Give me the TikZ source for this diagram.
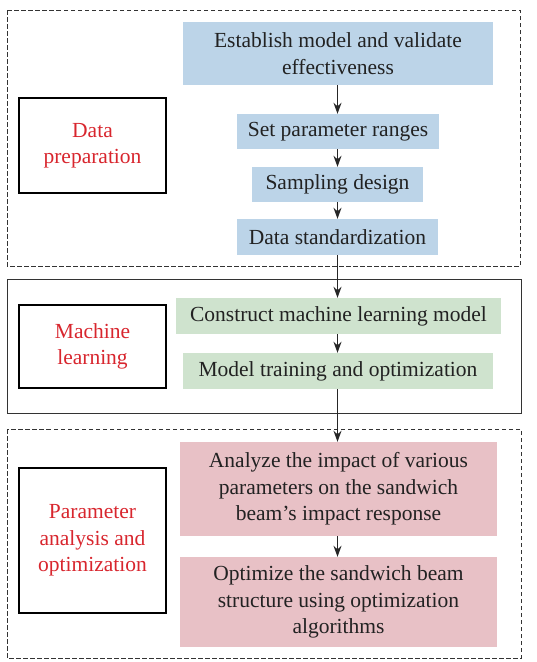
\documentclass[tikz,border=0pt]{standalone}
\usepackage{fontspec}
\setmainfont{Liberation Serif}
\usepackage{tikz}
\usetikzlibrary{%
  arrows.meta,%
  positioning%
}

\definecolor{stepblue}{RGB}{188,212,232}
\definecolor{stepgreen}{RGB}{207,227,206}
\definecolor{steppink}{RGB}{232,193,198}
\definecolor{labelred}{RGB}{216,38,46}
\definecolor{textdark}{RGB}{34,34,34}

\begin{document}
\begin{tikzpicture}[x=1pt,y=-1pt,font=\fontsize{21.5}{26.5}\selectfont]
 \begin{scope}[textdark,
   stepbox/.style={inner sep=0pt,align=center,text=textdark},
   bluebox/.style={stepbox,fill=stepblue},
   greenbox/.style={stepbox,fill=stepgreen},
   pinkbox/.style={stepbox,fill=steppink},
   labelbox/.style={draw=black,line width=2.2pt,inner sep=0pt,align=center,
     text=labelred,minimum width=147pt},
   groupbox/.style={draw=black!80,line width=0.9pt},
   flow/.style={draw=black!85,line width=1.3pt,-{Stealth[length=11pt,width=8pt]}}]
   \useasboundingbox (0,0) rectangle (537,662);

   %Gruppen
   \draw[groupbox,dash pattern=on 4.5pt off 2.5pt] (7,10) rectangle (520,266);
   \draw[groupbox] (7,279) rectangle (521,413);
   \draw[groupbox,dash pattern=on 4.5pt off 2.5pt] (7,429) rectangle (521,658);

   %Labels links
   \node[labelbox,minimum height=95pt] (prep) at (92.5,145.5) {Data\\preparation};
   \node[labelbox,minimum height=83pt] (ml) at (92.5,346.5) {Machine\\learning};
   \node[labelbox,minimum height=145pt] (opt) at (92.5,540.5) {Parameter\\analysis and\\optimization};

   %Schritte
   \node[bluebox,minimum width=310pt,minimum height=63pt] (est) at (338,53.5)
     {Establish model and validate\\effectiveness};
   \node[bluebox,minimum width=202pt,minimum height=35pt] (spr) at (338,131.5)
     {Set parameter ranges};
   \node[bluebox,minimum width=171pt,minimum height=35pt] (sdes) at (337.5,184.5)
     {Sampling design};
   \node[bluebox,minimum width=201pt,minimum height=36pt] (dstd) at (337.5,237)
     {Data standardization};

   \node[greenbox,minimum width=325pt,minimum height=36pt] (cml) at (338.5,316)
     {Construct machine learning model};
   \node[greenbox,minimum width=310pt,minimum height=36pt] (mto) at (338,371)
     {Model training and optimization};

   \node[pinkbox,minimum width=317pt,minimum height=94pt] (aip) at (338.5,489)
     {Analyze the impact of various\\parameters on the sandwich\\beam’s impact response};
   \node[pinkbox,minimum width=317pt,minimum height=90pt] (osb) at (338.5,602)
     {Optimize the sandwich beam\\structure using optimization\\algorithms};

   %Pfeile
   \coordinate (ax) at (337.5,0);
   \draw[flow] (est.south -| ax) -- (spr.north -| ax);
   \draw[flow] (spr.south -| ax) -- (sdes.north -| ax);
   \draw[flow] (sdes.south -| ax) -- (dstd.north -| ax);
   \draw[flow] (dstd.south -| ax) -- (cml.north -| ax);
   \draw[flow] (cml.south -| ax) -- (mto.north -| ax);
   \draw[flow] (mto.south -| ax) -- (aip.north -| ax);
   \draw[flow] (aip.south -| ax) -- (osb.north -| ax);
 \end{scope}
\end{tikzpicture}
\end{document}
